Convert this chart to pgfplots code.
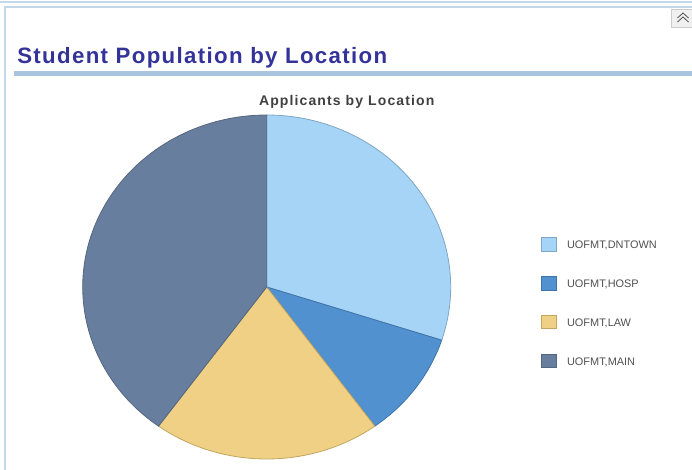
\documentclass[border=0pt]{standalone}
\usepackage{fontspec}
\setmainfont{Liberation Sans}
\usepackage{pgfplots}
\usepackage{pgfplotstable}
\pgfplotsset{compat=1.18}

\definecolor{cDN}{HTML}{A6D4F6}
\definecolor{cHO}{HTML}{5291D0}
\definecolor{cLA}{HTML}{F0D085}
\definecolor{cMA}{HTML}{687E9F}
\definecolor{eDN}{HTML}{7FA6C4}
\definecolor{eHO}{HTML}{3F74A8}
\definecolor{eLA}{HTML}{C2A660}
\definecolor{eMA}{HTML}{55677F}
\definecolor{titleblue}{HTML}{333399}
\definecolor{rulecol}{HTML}{A9C4DF}
\definecolor{framecol}{HTML}{C3D6EA}

\pgfplotstableread{
loc value
DNTOWN 30
HOSP 10
LAW 20
MAIN 40
}\pietable
\pgfplotstablegetelem{0}{value}\of\pietable \let\vA\pgfplotsretval
\pgfplotstablegetelem{1}{value}\of\pietable \let\vB\pgfplotsretval
\pgfplotstablegetelem{2}{value}\of\pietable \let\vC\pgfplotsretval
\pgfplotstablegetelem{3}{value}\of\pietable \let\vD\pgfplotsretval
\pgfmathsetmacro\tot{\vA+\vB+\vC+\vD}
\pgfmathsetmacro\aA{90-360*\vA/\tot}
\pgfmathsetmacro\aB{\aA-360*\vB/\tot}
\pgfmathsetmacro\aC{\aB-360*\vC/\tot}
\pgfmathsetmacro\aD{\aC-360*\vD/\tot}
\def\cx{266.7}\def\cy{183}\def\rx{184}\def\ry{172}

\begin{document}%
\begin{tikzpicture}
\begin{axis}[name=ax,
  scale only axis, width=519pt, height=352.5pt,
  xmin=0, xmax=692, ymin=0, ymax=470,
  hide axis, clip=false,
  legend image code/.code={\draw[#1] (0pt,-5.2pt) rectangle (11.25pt,5.2pt); \path (18.75pt,0pt);},
  legend style={at={(axis cs:541,233.5)}, anchor=north west, draw=none, fill=none,
    font=\fontsize{8.2}{10}\selectfont\color[HTML]{505050},
    row sep=18.2pt, inner sep=0pt,
    nodes={inner sep=0pt, text height=7pt, text depth=0pt},
    legend cell align=left},
]
% frame
\draw[framecol, line width=1.2pt] (axis cs:0,468) -- (axis cs:692,468);
\draw[framecol, line width=1pt] (axis cs:5,0) -- (axis cs:5,463) -- (axis cs:692,463);
% button
\draw[black!20, fill=black!6] (axis cs:671,461) rectangle (axis cs:694,443);
\draw[black!70, line width=0.6pt] (axis cs:677.5,452) -- (axis cs:683,457) -- (axis cs:688.5,452);
\draw[black!70, line width=0.6pt] (axis cs:677.5,448) -- (axis cs:683,453) -- (axis cs:688.5,448);
% titles
\node[anchor=base west, inner sep=0pt, font=\fontsize{16.7}{19}\selectfont\bfseries\addfontfeatures{LetterSpace=6}, text=titleblue]
  at (axis cs:17,406.7) {Student Population by Location};
\fill[rulecol] (axis cs:14,394) rectangle (axis cs:692,398.5);
\node[anchor=base, inner sep=0pt, font=\fontsize{10.5}{12}\selectfont\bfseries\addfontfeatures{LetterSpace=8}, text=black!75]
  at (axis cs:346.7,364.7) {Applicants by Location};
% pie
\addplot[fill=cDN, draw=eDN, line width=0.6pt, domain=\aA:90, samples=80]
  ({\cx+\rx*cos(x)},{\cy+\ry*sin(x)}) -- (axis cs:\cx,\cy) -- cycle;
\addlegendentry{UOFMT,DNTOWN}
\addplot[fill=cHO, draw=eHO, line width=0.6pt, domain=\aB:\aA, samples=40]
  ({\cx+\rx*cos(x)},{\cy+\ry*sin(x)}) -- (axis cs:\cx,\cy) -- cycle;
\addlegendentry{UOFMT,HOSP}
\addplot[fill=cLA, draw=eLA, line width=0.6pt, domain=\aC:\aB, samples=60]
  ({\cx+\rx*cos(x)},{\cy+\ry*sin(x)}) -- (axis cs:\cx,\cy) -- cycle;
\addlegendentry{UOFMT,LAW}
\addplot[fill=cMA, draw=eMA, line width=0.6pt, domain=\aD:\aC, samples=100]
  ({\cx+\rx*cos(x)},{\cy+\ry*sin(x)}) -- (axis cs:\cx,\cy) -- cycle;
\addlegendentry{UOFMT,MAIN}
\end{axis}
\pgfresetboundingbox
\path (ax.south west) rectangle (ax.north east);
\end{tikzpicture}%
\end{document}
